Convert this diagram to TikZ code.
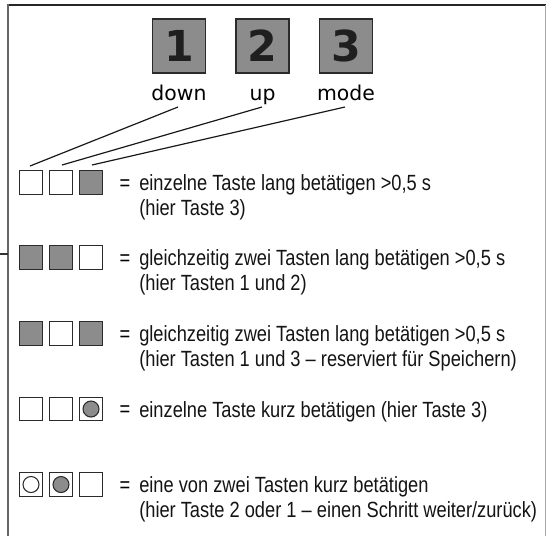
\documentclass[tikz,border=0pt]{standalone}
\usepackage{fontspec}
\newfontfamily\condfont{Liberation Sans}[FakeStretch=0.83]
\newfontfamily\dvfont{DejaVu Sans}
\definecolor{keygray}{HTML}{8C8C8C}
\definecolor{edgecol}{HTML}{2B2B2B}
\begin{document}
\begin{tikzpicture}[x=0.75pt,y=-0.75pt,
  bigkey/.style={draw=edgecol, line width=1.1pt, fill=keygray, minimum width=39.75pt, minimum height=40.5pt, inner sep=0pt,
     font=\dvfont\bfseries\fontsize{32}{32}\selectfont, text=black!88},
  keylabel/.style={font=\dvfont\fontsize{15.3}{18}\selectfont, anchor=base, inner sep=0pt},
  skey/.style={draw=edgecol, line width=0.9pt, minimum size=17.6pt, inner sep=0pt},
  skeyg/.style={skey, fill=keygray},
  dot/.style={circle, draw=edgecol, line width=0.8pt, minimum size=12pt, inner sep=0pt},
  dotg/.style={dot, fill=keygray},
  eqsign/.style={font=\condfont\fontsize{16.5}{18.75}\selectfont, anchor=base, inner sep=0pt},
  desc/.style={font=\condfont\fontsize{16.5}{18.75}\selectfont, anchor=north west, align=left, inner sep=0pt, text=black!92},
  conn/.style={line width=0.9pt, black!90},
  frameline/.style={line width=1.1pt, black!85}
]
\useasboundingbox (0,0) rectangle (548,536);

% frame
\draw[frameline] (7,5) -- (546,5);
\draw[line width=1.8pt, black!60] (8,4.4) -- (8,536);
\draw[line width=0.8pt, black!35] (545.5,5) -- (545.5,536);
\draw[line width=0.8pt, black!80] (0,254) -- (8,254);

% big keys
\node[bigkey] (k1) at (179,46) {1};
\node[bigkey] (k2) at (262.5,46) {2};
\node[bigkey] (k3) at (346,46) {3};
\node[keylabel] (down) at (179,100) {down};
\node[keylabel] (up) at (262.5,100) {up};
\node[keylabel] (mode) at (346,100) {mode};

% row 1
\node[skey]  (r1a) at (31,182.5) {};
\node[skey]  (r1b) at (61,182.5) {};
\node[skeyg] (r1c) at (91,182.5) {};
\node[eqsign] (e1) at (125,190.4) {=};
\node[desc] (t1) at (139,172.9) {\strut einzelne Taste lang betätigen >0,5 s\\(hier Taste 3)};

% connectors
\coordinate (s1) at (178,107);
\coordinate (s2) at (262,107);
\coordinate (s3) at (345,107);
\coordinate (f1) at (30,166);
\coordinate (f2) at (62,165);
\coordinate (f3) at (92,165);
\draw[conn] (s1) -- (f1);
\draw[conn] (s2) -- (f2);
\draw[conn] (s3) -- (f3);

% row 2
\node[skeyg] (r2a) at (31,257.5) {};
\node[skeyg] (r2b) at (61,257.5) {};
\node[skey]  (r2c) at (91,257.5) {};
\node[eqsign] (e2) at (125,265.4) {=};
\node[desc] (t2) at (139,247.9) {\strut gleichzeitig zwei Tasten lang betätigen >0,5 s\\(hier Tasten 1 und 2)};

% row 3
\node[skeyg] (r3a) at (31,333.5) {};
\node[skey]  (r3b) at (61,333.5) {};
\node[skeyg] (r3c) at (91,333.5) {};
\node[eqsign] (e3) at (125,341.4) {=};
\node[desc] (t3) at (139,323.9) {\strut gleichzeitig zwei Tasten lang betätigen >0,5 s\\(hier Tasten 1 und 3 – reserviert für Speichern)};

% row 4
\node[skey] (r4a) at (31,409) {};
\node[skey] (r4b) at (61,409) {};
\node[skey] (r4c) at (91,409) {};
\node[dotg] (r4d) at (r4c) {};
\node[eqsign] (e4) at (125,416.9) {=};
\node[desc] (t4) at (139,399.4) {\strut einzelne Taste kurz betätigen (hier Taste 3)};

% row 5
\node[skey] (r5a) at (31,484.5) {};
\node[skey] (r5b) at (61,484.5) {};
\node[skey] (r5c) at (91,484.5) {};
\node[dot]  (r5d) at (r5a) {};
\node[dotg] (r5e) at (r5b) {};
\node[eqsign] (e5) at (125,492.4) {=};
\node[desc] (t5) at (139,474.9) {\strut eine von zwei Tasten kurz betätigen\\(hier Taste 2 oder 1 – einen Schritt weiter/zurück)};
\end{tikzpicture}
\end{document}
